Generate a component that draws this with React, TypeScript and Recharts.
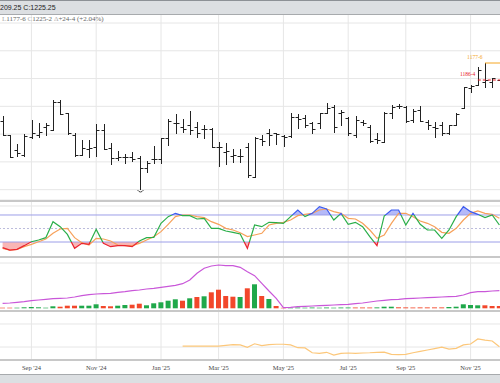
import React from 'react';
import {
  ComposedChart,
  Bar,
  Line,
  Area,
  XAxis,
  YAxis,
  CartesianGrid,
  ReferenceLine,
  Cell,
} from 'recharts';

// weekly bars, first week of Aug '24 to last week of Nov '25
const OPEN = [
  1161.8, 1149.2, 1135.7, 1131.2, 1147.4, 1149.2, 1156.4, 1153.7, 1178.9, 1169.0,
  1149.2, 1131.2, 1136.6, 1138.4, 1153.7, 1137.5, 1128.5, 1129.4, 1129.4, 1128.5,
  1119.5, 1127.6, 1127.6, 1146.5, 1160.0, 1156.4, 1158.2, 1156.4, 1154.6, 1154.6,
  1138.4, 1133.9, 1130.3, 1130.3, 1138.4, 1111.4, 1145.6, 1151.0, 1151.0, 1148.3,
  1148.3, 1165.4, 1164.5, 1160.0, 1160.0, 1169.0, 1174.4, 1169.0, 1164.5, 1149.2,
  1160.9, 1156.4, 1145.6, 1142.9, 1169.0, 1175.3, 1174.4, 1162.7, 1171.7, 1160.9,
  1156.4, 1158.2, 1151.0, 1158.2, 1173.5, 1191.5, 1194.2, 1196.9, 1196.9, 1198.7,
];
const HIGH = [
  1166.3, 1149.2, 1141.1, 1150.1, 1162.7, 1160.0, 1160.0, 1180.7, 1180.7, 1169.0,
  1151.0, 1144.7, 1144.7, 1159.1, 1159.1, 1142.0, 1134.8, 1132.1, 1133.9, 1130.3,
  1125.8, 1139.3, 1146.5, 1163.6, 1168.1, 1163.6, 1170.8, 1160.9, 1158.2, 1155.5,
  1142.9, 1142.0, 1136.6, 1136.6, 1142.0, 1147.4, 1149.2, 1154.6, 1151.0, 1149.2,
  1169.0, 1168.1, 1167.2, 1160.9, 1169.0, 1178.0, 1176.2, 1171.7, 1165.4, 1166.3,
  1162.7, 1158.2, 1151.0, 1169.9, 1176.2, 1177.1, 1175.3, 1172.6, 1175.3, 1162.7,
  1160.9, 1160.9, 1158.2, 1169.0, 1192.4, 1194.2, 1210.4, 1214.0, 1200.5, 1205.0,
];
const LOW = [
  1149.2, 1129.4, 1130.3, 1130.3, 1146.5, 1147.4, 1149.2, 1153.7, 1168.1, 1150.1,
  1130.3, 1131.2, 1129.4, 1130.3, 1136.6, 1123.1, 1126.7, 1124.0, 1125.8, 1100.6,
  1115.9, 1124.0, 1124.0, 1140.2, 1151.0, 1151.9, 1150.1, 1147.4, 1146.5, 1138.4,
  1121.3, 1123.1, 1124.9, 1124.9, 1111.4, 1111.4, 1140.2, 1140.2, 1141.1, 1139.3,
  1147.4, 1155.5, 1156.4, 1151.0, 1155.5, 1169.0, 1151.9, 1158.2, 1149.2, 1147.4,
  1158.2, 1142.9, 1142.0, 1142.9, 1164.5, 1173.5, 1160.9, 1160.9, 1161.8, 1154.6,
  1147.4, 1149.2, 1150.1, 1158.2, 1173.5, 1187.9, 1194.2, 1192.4, 1192.4, 1187.9,
];
const CLOSE = [
  1149.2, 1129.4, 1133.0, 1148.3, 1151.0, 1151.9, 1158.2, 1178.9, 1168.1, 1151.0,
  1131.2, 1137.5, 1137.5, 1153.7, 1136.6, 1128.5, 1129.4, 1129.4, 1127.6, 1119.5,
  1124.0, 1127.6, 1146.5, 1161.8, 1160.0, 1154.6, 1153.7, 1151.0, 1154.6, 1138.4,
  1138.4, 1134.8, 1131.2, 1130.3, 1113.2, 1146.5, 1143.8, 1149.2, 1150.1, 1147.4,
  1165.4, 1163.6, 1158.2, 1154.6, 1169.0, 1173.5, 1156.4, 1169.9, 1151.0, 1162.7,
  1160.0, 1143.8, 1144.7, 1169.0, 1174.4, 1175.3, 1161.8, 1170.8, 1161.8, 1158.2,
  1155.5, 1151.0, 1158.2, 1168.1, 1192.4, 1193.3, 1207.7, 1198.7, 1200.5, 1191.5,
];

// stochastic %K / %D
const STOCH_K = [
  7.4, 2.2, 3.7, 11.9, 20.7, 24.4, 29.6, 65.2, 54.1, 37.0,
  5.9, 17.0, 14.8, 48.1, 17.0, 9.6, 11.9, 11.9, 9.6, 22.2,
  29.6, 30.4, 61.5, 76.3, 83.7, 78.5, 78.5, 71.1, 72.6, 50.4,
  50.4, 44.4, 41.5, 37.8, 5.9, 57.8, 54.1, 63.7, 63.0, 61.5,
  76.3, 91.1, 76.3, 83.7, 98.5, 93.3, 68.9, 83.7, 59.3, 63.7,
  54.1, 31.9, 11.9, 77.8, 91.1, 91.1, 57.8, 83.7, 59.3, 46.7,
  46.7, 28.1, 46.7, 76.3, 98.5, 87.4, 81.5, 74.1, 80.0, 57.8,
];
const STOCH_D = [
  5.9, 2.2, 3.7, 9.6, 14.8, 20.7, 26.7, 39.3, 48.9, 50.4,
  29.6, 18.5, 13.3, 28.1, 26.7, 22.2, 13.3, 11.9, 11.9, 17.0,
  24.4, 31.9, 43.0, 59.3, 76.3, 80.0, 80.0, 76.3, 74.1, 65.2,
  59.3, 50.4, 46.7, 40.7, 31.9, 35.6, 39.3, 57.8, 61.5, 63.7,
  68.9, 78.5, 81.5, 83.7, 91.1, 93.3, 87.4, 83.7, 72.6, 71.1,
  61.5, 46.7, 28.1, 35.6, 61.5, 83.7, 83.7, 76.3, 66.7, 61.5,
  54.1, 41.5, 39.3, 50.4, 68.9, 83.7, 88.9, 83.7, 81.5, 72.6,
];

// volume (thousands), bar colour G/R, and its average line
const VOLUME = [
  0.6, 0.6, 0.6, 1.0, 1.3, 1.0, 0.6, 2.0, 1.6, 2.6,
  2.6, 2.6, 2.6, 4.0, 2.3, 2.0, 2.6, 3.3, 3.6, 4.6,
  3.0, 5.0, 6.0, 7.6, 9.0, 7.6, 10.0, 11.3, 12.0, 16.0,
  18.6, 12.3, 11.6, 11.3, 20.0, 24.0, 12.3, 9.3, 2.3, 0.5,
  0.6, 0.8, 0.6, 0.8, 0.6, 0.8, 0.6, 0.8, 0.8, 0.8,
  0.8, 0.8, 0.9, 1.6, 1.6, 1.0, 0.9, 0.8, 0.9, 0.9,
  0.9, 0.9, 1.3, 1.6, 4.0, 3.3, 3.0, 3.0, 2.3, 2.3,
];
const VOLUME_DIR = [
  'RRGGGGGGRR', 'RGGGRRGGRR', 'GGGGGRGRGR', 'RRRGRGRGRR',
  'GGGGGGGGGR', 'RRGGGRRRRR', 'RRGGGGGRRR',
].join('');
const VOLUME_AVG = [
  5.0, 5.3, 6.0, 6.6, 7.6, 8.3, 9.0, 9.6, 10.0, 10.3,
  11.3, 12.6, 13.6, 14.3, 14.6, 15.0, 16.0, 16.6, 17.6, 18.3,
  19.3, 20.0, 21.0, 22.0, 23.0, 24.6, 28.3, 35.0, 40.0, 42.3,
  43.3, 42.6, 42.6, 41.0, 36.6, 32.6, 25.0, 17.3, 10.0, 0.6,
  1.0, 1.6, 2.0, 2.3, 2.6, 3.0, 3.3, 3.6, 4.0, 4.6,
  5.3, 6.3, 7.3, 8.0, 8.6, 9.0, 9.6, 10.0, 10.3, 10.6,
  11.0, 11.3, 11.6, 12.0, 13.3, 15.6, 16.6, 16.6, 17.3, 17.6,
];

// lower study, starts in Feb '25
const SPREAD = [
  null, null, null, null, null, null, null, null, null, null,
  null, null, null, null, null, null, null, null, null, null,
  null, null, null, null, null, 1.04, 1.04, 1.04, 1.04, 1.04,
  1.04, 1.07, 1.10, 1.09, 0.99, 1.14, 1.06, 1.10, 1.12, 1.12,
  1.09, 0.97, 0.96, 0.75, 0.72, 0.77, 0.65, 0.72, 0.74, 0.72,
  0.74, 0.75, 0.77, 0.78, 0.68, 0.67, 0.68, 0.75, 0.81, 0.87,
  0.93, 0.99, 0.91, 0.94, 1.09, 1.13, 1.35, 1.30, 1.26, 1.01,
];

// first week of each labelled month
const MONTH_TICKS = [4, 13, 22, 30, 39, 48, 56, 65];
const MONTH_LABELS = ["Sep '24", "Nov '24", "Jan '25", "Mar '25", "May '25", "Jul '25", "Sep '25", "Nov '25"];

const PRICE_TICKS = [1100, 1125, 1150, 1175, 1200, 1225, 1250];
const MARK_LEVEL = 1198.7;
const MARK_FROM = 66;
const MARK_LABEL = '1186-4';
const HIGH_LABEL = '1177-6';

const rows = OPEN.map((o, i) => ({
  i,
  open: o,
  high: HIGH[i],
  low: LOW[i],
  close: CLOSE[i],
  k: STOCH_K[i],
  d: STOCH_D[i],
  vol: VOLUME[i],
  up: VOLUME_DIR[i] === 'G',
  avg: VOLUME_AVG[i],
  spread: SPREAD[i],
}));

const maxHigh = Math.max(...HIGH);
const maxHighIdx = HIGH.indexOf(maxHigh);
const minLow = Math.min(...LOW);

const CHART_W = 504;
const X_DOMAIN: [number, number] = [-0.5, 69.5];
const GRID = '#e6e6e6';
const GREEN = '#1fa84a';
const RED = '#f2472b';
const SERIF = "'Liberation Serif', 'DejaVu Serif', serif";
const SANS = "'Liberation Sans', Arial, sans-serif";

const px = (v: number) => Math.round(v) + 0.5;

// OHLC bar: vertical high-low, open tick left, close tick right
const OhlcShape = (props: any) => {
  const { x, y, width, height, payload } = props;
  if (!payload) return null;
  const top = Math.min(y, y + height);
  const bot = Math.max(y, y + height);
  const span = payload.high - payload.low;
  const toY = (v: number) => (span ? top + ((payload.high - v) / span) * (bot - top) : top);
  const cx = px(x + width / 2);
  const oy = px(toY(payload.open));
  const cy = px(toY(payload.close));
  return (
    <g stroke="#222" strokeWidth={1} fill="none">
      <line x1={cx} x2={cx} y1={Math.round(top)} y2={Math.round(bot) + 1} />
      <line x1={cx - 3} x2={cx} y1={oy} y2={oy} />
      <line x1={cx} x2={cx + 3} y1={cy} y2={cy} />
      {payload.low === minLow && (
        <path d={`M${cx - 3},${bot + 1} Q${cx},${bot + 5} ${cx + 3},${bot + 1}`} strokeWidth={0.8} />
      )}
    </g>
  );
};

const EdgeLabel = ({ viewBox, text, color }: any) => {
  if (!viewBox) return null;
  return (
    <text
      x={viewBox.x - 2.5}
      y={viewBox.y - 4}
      textAnchor="end"
      fontSize={5.5}
      fontFamily={SERIF}
      fill={color}
    >
      {text}
    </text>
  );
};

const hiddenX = (
  <XAxis hide type="number" dataKey="i" domain={X_DOMAIN} ticks={MONTH_TICKS} allowDataOverflow />
);

const Separator = ({ top }: { top: number }) => (
  <div style={{ position: 'absolute', left: 0, top, width: 500, height: 2, background: '#c8c8c8' }} />
);

export default function App() {
  return (
    <div
      style={{
        position: 'absolute',
        left: 0,
        top: 0,
        width: 500,
        height: 383,
        overflow: 'hidden',
        background: '#fff',
        fontFamily: SANS,
      }}
    >
      {/* price panel */}
      <div style={{ position: 'absolute', left: -1, top: 14 }}>
        <ComposedChart width={CHART_W} height={186} data={rows} margin={{ top: 0, right: 0, bottom: 0, left: 0 }}>
          <CartesianGrid stroke={GRID} />
          {hiddenX}
          <YAxis hide domain={[1090.7, 1258.1]} ticks={PRICE_TICKS} allowDataOverflow />
          <Bar dataKey={(d: any) => [d.low, d.high]} shape={OhlcShape} isAnimationActive={false} />
          <ReferenceLine
            segment={[
              { x: MARK_FROM, y: MARK_LEVEL },
              { x: 69.5, y: MARK_LEVEL },
            ]}
            stroke="#e8202a"
            strokeDasharray="3 2"
            label={<EdgeLabel text={MARK_LABEL} color="#e8202a" />}
          />
          <ReferenceLine
            segment={[
              { x: maxHighIdx, y: maxHigh },
              { x: 69.5, y: maxHigh },
            ]}
            stroke="#f5a623"
            label={<EdgeLabel text={HIGH_LABEL} color="#f5a623" />}
          />
        </ComposedChart>
      </div>

      {/* stochastic panel */}
      <div style={{ position: 'absolute', left: -1, top: 200 }}>
        <ComposedChart width={CHART_W} height={57} data={rows} margin={{ top: 0, right: 0, bottom: 0, left: 0 }}>
          <defs>
            <linearGradient id="kStroke" x1="0" y1="0" x2="0" y2="57" gradientUnits="userSpaceOnUse">
              <stop offset={0.263} stopColor="#3b5bf0" />
              <stop offset={0.263} stopColor="#2aae49" />
              <stop offset={0.737} stopColor="#2aae49" />
              <stop offset={0.737} stopColor="#ea2430" />
            </linearGradient>
            <linearGradient id="obFill" x1="0" y1="0" x2="0" y2="57" gradientUnits="userSpaceOnUse">
              <stop offset={0} stopColor="#5a64f0" stopOpacity={0.45} />
              <stop offset={0.263} stopColor="#5a64f0" stopOpacity={0.45} />
              <stop offset={0.263} stopColor="#5a64f0" stopOpacity={0} />
            </linearGradient>
            <linearGradient id="osFill" x1="0" y1="0" x2="0" y2="57" gradientUnits="userSpaceOnUse">
              <stop offset={0.737} stopColor="#f04848" stopOpacity={0} />
              <stop offset={0.737} stopColor="#f04848" stopOpacity={0.4} />
              <stop offset={1} stopColor="#f04848" stopOpacity={0.4} />
            </linearGradient>
          </defs>
          <CartesianGrid stroke={GRID} />
          {hiddenX}
          <YAxis hide domain={[-13.3, 113.3]} ticks={[0, 100]} allowDataOverflow />
          <ReferenceLine y={80} stroke="#9c9ee8" />
          <ReferenceLine y={20} stroke="#9c9ee8" />
          <ReferenceLine y={50} stroke="#bcbcdc" strokeDasharray="2 2" />
          <Area
            type="linear"
            dataKey={(d: any) => [80, d.k]}
            stroke="none"
            fill="url(#obFill)"
            fillOpacity={1}
            isAnimationActive={false}
          />
          <Area
            type="linear"
            dataKey={(d: any) => [20, d.k]}
            stroke="none"
            fill="url(#osFill)"
            fillOpacity={1}
            isAnimationActive={false}
          />
          <Line type="linear" dataKey="d" stroke="#f7a15a" strokeWidth={1.2} dot={false} isAnimationActive={false} />
          <Line type="linear" dataKey="k" stroke="url(#kStroke)" strokeWidth={1.2} dot={false} isAnimationActive={false} />
        </ComposedChart>
      </div>

      {/* volume panel */}
      <div style={{ position: 'absolute', left: -1, top: 257 }}>
        <ComposedChart width={CHART_W} height={54} data={rows} margin={{ top: 0, right: 0, bottom: 0, left: 0 }}>
          <CartesianGrid stroke={GRID} />
          {hiddenX}
          <YAxis hide domain={[-2.7, 51.3]} ticks={[21.3, 45.3]} allowDataOverflow />
          <Bar dataKey="vol" barSize={5} isAnimationActive={false}>
            {rows.map((r) => (
              <Cell key={r.i} fill={r.up ? GREEN : RED} />
            ))}
          </Bar>
          <Line type="linear" dataKey="avg" stroke="#c957d9" strokeWidth={1.2} dot={false} isAnimationActive={false} />
        </ComposedChart>
      </div>

      {/* lower study + time axis */}
      <div style={{ position: 'absolute', left: -1, top: 311 }}>
        <ComposedChart width={CHART_W} height={63} data={rows} margin={{ top: 0, right: 0, bottom: 0, left: 0 }}>
          <CartesianGrid stroke={GRID} />
          <XAxis
            type="number"
            dataKey="i"
            domain={X_DOMAIN}
            ticks={MONTH_TICKS}
            interval={0}
            allowDataOverflow
            height={14}
            axisLine={false}
            tickLine={false}
            tickSize={0}
            tickMargin={5}
            tickFormatter={(v: number) => MONTH_LABELS[MONTH_TICKS.indexOf(v)] ?? ''}
            tick={{ fontSize: 6.5, fill: '#444', fontFamily: SERIF }}
          />
          <YAxis hide domain={[0.435, 2.565]} ticks={[1, 2]} allowDataOverflow />
          <Line
            type="linear"
            dataKey="spread"
            stroke="#fcc77a"
            strokeWidth={1.2}
            dot={false}
            connectNulls={false}
            isAnimationActive={false}
          />
        </ComposedChart>
      </div>

      <Separator top={200} />
      <Separator top={256} />
      <Separator top={310} />
      <Separator top={359} />

      {/* header strip */}
      <div
        style={{
          position: 'absolute',
          left: 0,
          top: 0,
          width: 500,
          height: 13,
          background: '#dcdfe2',
          borderTop: '1px solid #8d9196',
          borderBottom: '1px solid #a7aaad',
          fontSize: 7,
          lineHeight: '13px',
          color: '#222',
          whiteSpace: 'nowrap',
        }}
      >
        209.25 C:1225.25
      </div>
      <div
        style={{
          position: 'absolute',
          left: 2,
          top: 15,
          fontFamily: SERIF,
          fontSize: 7,
          lineHeight: '9px',
          color: '#666',
          whiteSpace: 'nowrap',
        }}
      >
        <span style={{ color: '#aaa' }}>L</span>1177-6 <span style={{ color: '#aaa' }}>C</span>1225-2{' '}
        <span style={{ color: '#aaa' }}>Δ</span>+24-4 (+2.04%)
      </div>

      {/* footer strip */}
      <div
        style={{
          position: 'absolute',
          left: 0,
          top: 374,
          width: 500,
          height: 9,
          background: '#dcdfe2',
          borderTop: '1px solid #a7aaad',
        }}
      />
    </div>
  );
}
